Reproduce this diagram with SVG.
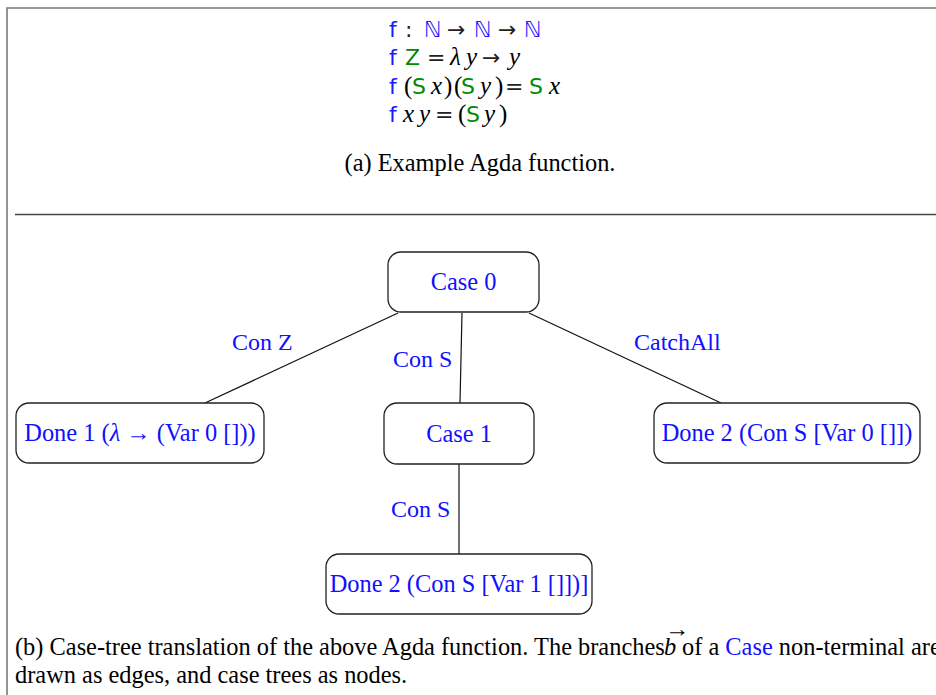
<svg xmlns="http://www.w3.org/2000/svg" width="936" height="695" viewBox="0 0 936 695">
<style>
.frame{stroke:#7a7a7a;stroke-width:1.6;fill:none}
.sep{stroke:#444;stroke-width:1.4;fill:none}
.node{fill:#fff;stroke:#222;stroke-width:1.3}
.edge{stroke:#111;stroke-width:1.2;fill:none}
.t{font-family:"Liberation Serif","Times New Roman",serif;font-size:24.4px;fill:#000}
.lbl{font-family:"Liberation Serif","Times New Roman",serif;font-size:24px;fill:#1010ff}
.nt{font-family:"Liberation Serif","Times New Roman",serif;font-size:24.4px;fill:#1010ff;text-anchor:middle}
.code{font-family:"Liberation Serif","Times New Roman",serif;font-size:25px;fill:#000}
.sf{font-family:"DejaVu Sans","Noto Sans",sans-serif;font-size:22px}
.op{font-family:"DejaVu Sans","Noto Sans",sans-serif;font-size:22px;fill:#222}
.fn{fill:#1a1aff}
.con{fill:#008b00}
.it{font-style:italic}
.nat{font-family:"DejaVu Sans","Noto Sans",sans-serif;font-size:22px;fill:#1a1aff}
</style>
<rect width="936" height="695" fill="#fff"/>
<g id="frame">
<path class="frame" d="M7,695 V8 H936"/>
<path class="sep" d="M15,214.5 H936"/>
</g>
<g id="code">
<text class="code" y="37"><tspan class="sf fn" x="389">f</tspan><tspan class="op" x="405">:</tspan><tspan class="nat" x="424">ℕ</tspan><tspan class="op" x="447">→</tspan><tspan class="nat" x="474">ℕ</tspan><tspan class="op" x="498">→</tspan><tspan class="nat" x="524">ℕ</tspan></text>
<text class="code" y="65"><tspan class="sf fn" x="389">f</tspan><tspan class="sf con" x="405">Z</tspan><tspan class="op" x="427">=</tspan><tspan class="it" x="450">λ</tspan><tspan class="it" x="466">y</tspan><tspan class="op" x="482">→</tspan><tspan class="it" x="509">y</tspan></text>
<text class="code" y="94"><tspan class="sf fn" x="389">f</tspan><tspan x="404">(</tspan><tspan class="sf con" x="412">S</tspan><tspan class="it" x="431">x</tspan><tspan x="444">)</tspan><tspan x="454">(</tspan><tspan class="sf con" x="461">S</tspan><tspan class="it" x="480">y</tspan><tspan x="495">)</tspan><tspan class="op" x="505">=</tspan><tspan class="sf con" x="529">S</tspan><tspan class="it" x="549">x</tspan></text>
<text class="code" y="122"><tspan class="sf fn" x="389">f</tspan><tspan class="it" x="403">x</tspan><tspan class="it" x="419">y</tspan><tspan class="op" x="435">=</tspan><tspan x="458">(</tspan><tspan class="sf con" x="466">S</tspan><tspan class="it" x="484">y</tspan><tspan x="499">)</tspan></text>
<text class="t" x="480" y="171" text-anchor="middle" font-size="24.7">(a) Example Agda function.</text>
</g>
<g id="edges">
<line class="edge" x1="398" y1="313" x2="205" y2="403"/>
<line class="edge" x1="462" y1="313" x2="460" y2="403"/>
<line class="edge" x1="529" y1="313" x2="721" y2="403"/>
<line class="edge" x1="459" y1="464" x2="459" y2="554"/>
<text class="lbl" x="232" y="350">Con Z</text>
<text class="lbl" x="393" y="367">Con S</text>
<text class="lbl" x="634" y="350">CatchAll</text>
<text class="lbl" x="391" y="517">Con S</text>
</g>
<g id="case0">
<rect class="node" x="388" y="252" width="151" height="60" rx="13"/>
<text class="nt" x="463.5" y="290">Case 0</text>
</g>
<g id="done1">
<rect class="node" x="16" y="403" width="248" height="60" rx="13"/>
<text class="nt" x="140" y="441">Done 1 (<tspan font-style="italic">λ</tspan> → (Var 0 []))</text>
</g>
<g id="case1">
<rect class="node" x="384" y="403" width="150" height="61" rx="13"/>
<text class="nt" x="459" y="442">Case 1</text>
</g>
<g id="done2a">
<rect class="node" x="654" y="403" width="266" height="60" rx="13"/>
<text class="nt" x="787" y="441">Done 2 (Con S [Var 0 []])</text>
</g>
<g id="done2b">
<rect class="node" x="326" y="554" width="266" height="60" rx="13"/>
<text class="nt" x="459" y="592">Done 2 (Con S [Var 1 []])]</text>
</g>
<g id="caption">
<text class="t" x="15" y="655">(b) Case-tree translation of the above Agda function. The branches</text>
<text class="t" x="664" y="655" font-style="italic" fill="#1010ff">b</text>
<text class="t" x="665" y="637" font-size="12" fill="#1010ff">→</text>
<text class="t" x="682" y="655">of a <tspan fill="#1010ff">Case</tspan> non-terminal are</text>
<text class="t" x="15" y="683">drawn as edges, and case trees as nodes.</text>
</g>
</svg>
